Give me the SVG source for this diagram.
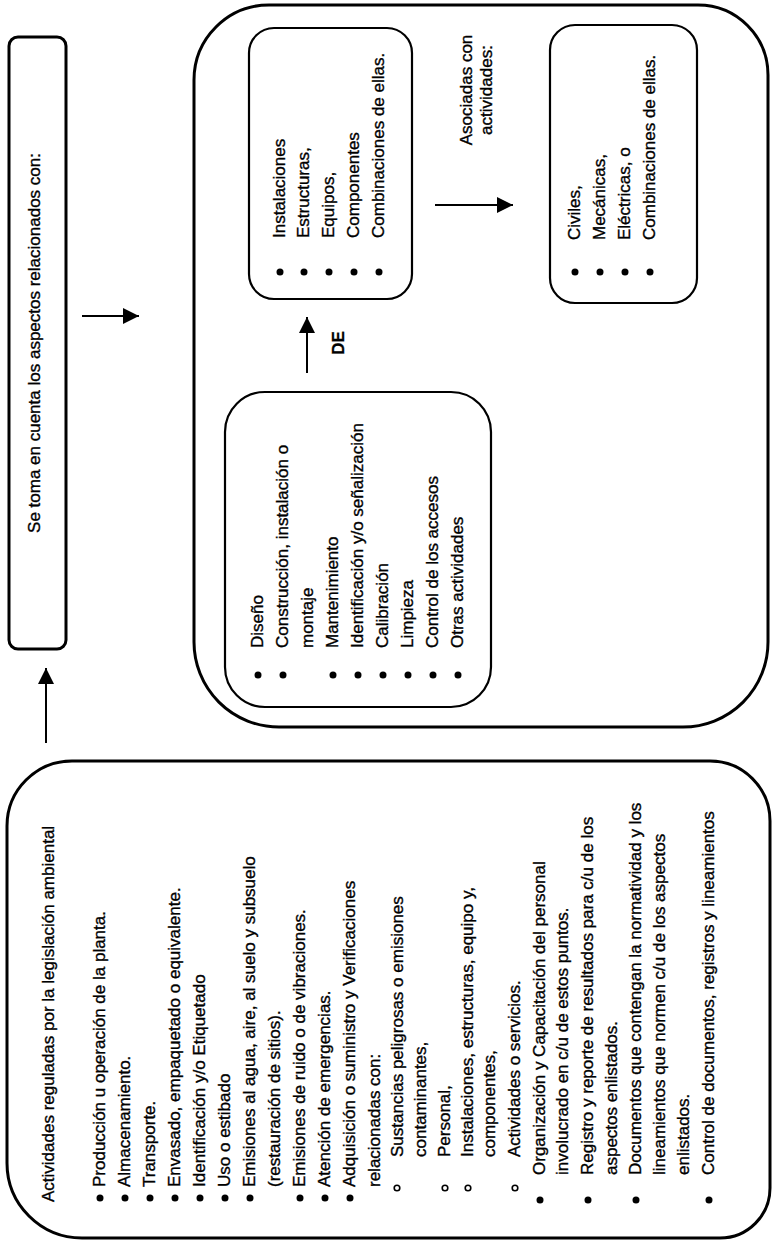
<svg xmlns="http://www.w3.org/2000/svg" width="773" height="1244" viewBox="0 0 773 1244">
<style>
text{font-family:"Liberation Sans",Arial,sans-serif;font-size:17px;fill:#000;stroke:#000;stroke-width:0.35}
.box{fill:none;stroke:#000;stroke-width:3}
.ibox{fill:none;stroke:#000;stroke-width:2.2}
.b{fill:#000}
.o{fill:none;stroke:#000;stroke-width:1.6}
.conn{stroke:#000;stroke-width:2;fill:none;marker-end:url(#ah)}
.de{font-weight:bold}
</style>
<defs>
<marker id="ah" markerUnits="userSpaceOnUse" markerWidth="16" markerHeight="16" viewBox="0 0 16 16" refX="16" refY="8" orient="auto">
<path d="M0,0 L16,8 L0,16 z" fill="#000"/>
</marker>
</defs>
<rect width="773" height="1244" fill="#fff"/>

<g id="connectors">
<line class="conn" x1="82" y1="316" x2="139" y2="316"/>
<line class="conn" x1="46" y1="743" x2="46" y2="668"/>
<line class="conn" x1="307" y1="373" x2="307" y2="317"/>
<line class="conn" x1="435" y1="205" x2="513" y2="205"/>
<text class="de" transform="translate(344,343) rotate(-90)" text-anchor="middle">DE</text>
<text transform="translate(472,90) rotate(-90)" text-anchor="middle">Asociadas con</text>
<text transform="translate(492,90) rotate(-90)" text-anchor="middle">actividades:</text>
</g>

<g id="node-aspectos">
<rect class="box" x="9" y="37" width="57" height="612" rx="9"/>
<text transform="translate(40,343) rotate(-90)" text-anchor="middle">Se toma en cuenta los aspectos relacionados con:</text>
</g>

<g id="node-contenedor">
<path class="box" d="M269,5 H698 A70,70 0 0 1 768,75 V642 A85,85 0 0 1 683,727 H279 A85,85 0 0 1 194,642 V80 A75,75 0 0 1 269,5 Z"/>
</g>

<g id="node-instalaciones">
<rect class="ibox" x="249" y="28" width="163" height="271" rx="25"/>
<circle class="b" cx="280" cy="272" r="3.5"/><text transform="translate(285,238) rotate(-90)">Instalaciones</text>
<circle class="b" cx="304" cy="272" r="3.5"/><text transform="translate(309,238) rotate(-90)">Estructuras,</text>
<circle class="b" cx="329" cy="272" r="3.5"/><text transform="translate(334,238) rotate(-90)">Equipos,</text>
<circle class="b" cx="354" cy="272" r="3.5"/><text transform="translate(359,238) rotate(-90)">Componentes</text>
<circle class="b" cx="379" cy="272" r="3.5"/><text transform="translate(384,238) rotate(-90)">Combinaciones de ellas.</text>
</g>

<g id="node-civiles">
<rect class="ibox" x="550" y="25" width="147" height="278" rx="25"/>
<circle class="b" cx="575" cy="272" r="3.5"/><text transform="translate(580,240) rotate(-90)">Civiles,</text>
<circle class="b" cx="600" cy="272" r="3.5"/><text transform="translate(605,240) rotate(-90)">Mecánicas,</text>
<circle class="b" cx="625" cy="272" r="3.5"/><text transform="translate(630,240) rotate(-90)">Eléctricas, o</text>
<circle class="b" cx="650" cy="272" r="3.5"/><text transform="translate(655,240) rotate(-90)">Combinaciones de ellas.</text>
</g>

<g id="node-diseno">
<rect class="ibox" x="225" y="392" width="266" height="315" rx="40"/>
<circle class="b" cx="258" cy="675" r="3.5"/><text transform="translate(263,648) rotate(-90)">Diseño</text>
<circle class="b" cx="283" cy="675" r="3.5"/><text transform="translate(288,648) rotate(-90)">Construcción, instalación o</text>
<text transform="translate(313,648) rotate(-90)">montaje</text>
<circle class="b" cx="333" cy="675" r="3.5"/><text transform="translate(338,648) rotate(-90)">Mantenimiento</text>
<circle class="b" cx="358" cy="675" r="3.5"/><text transform="translate(363,648) rotate(-90)">Identificación y/o señalización</text>
<circle class="b" cx="383" cy="675" r="3.5"/><text transform="translate(388,648) rotate(-90)">Calibración</text>
<circle class="b" cx="408" cy="675" r="3.5"/><text transform="translate(413,648) rotate(-90)">Limpieza</text>
<circle class="b" cx="433" cy="675" r="3.5"/><text transform="translate(438,648) rotate(-90)">Control de los accesos</text>
<circle class="b" cx="458" cy="675" r="3.5"/><text transform="translate(463,648) rotate(-90)">Otras actividades</text>
</g>

<g id="node-actividades">
<path class="box" d="M72,761 H710 A60,60 0 0 1 770,821 V1188 A50,50 0 0 1 720,1238 H82 A75,75 0 0 1 7,1163 V826 A65,65 0 0 1 72,761 Z"/>
<text transform="translate(54,1202) rotate(-90)">Actividades reguladas por la legislación ambiental</text>
<circle class="b" cx="100" cy="1198" r="3.5"/><text transform="translate(105,1187) rotate(-90)">Producción u operación de la planta.</text>
<circle class="b" cx="125" cy="1198" r="3.5"/><text transform="translate(130,1187) rotate(-90)">Almacenamiento.</text>
<circle class="b" cx="150" cy="1198" r="3.5"/><text transform="translate(155,1187) rotate(-90)">Transporte.</text>
<circle class="b" cx="175" cy="1198" r="3.5"/><text transform="translate(180,1187) rotate(-90)">Envasado, empaquetado o equivalente.</text>
<circle class="b" cx="200" cy="1198" r="3.5"/><text transform="translate(205,1187) rotate(-90)">Identificación y/o Etiquetado</text>
<circle class="b" cx="225" cy="1198" r="3.5"/><text transform="translate(230,1187) rotate(-90)">Uso o estibado</text>
<circle class="b" cx="250" cy="1198" r="3.5"/><text transform="translate(255,1187) rotate(-90)">Emisiones al agua, aire, al suelo y subsuelo</text>
<text transform="translate(280,1187) rotate(-90)">(restauración de sitios).</text>
<circle class="b" cx="300" cy="1198" r="3.5"/><text transform="translate(305,1187) rotate(-90)">Emisiones de ruido o de vibraciones.</text>
<circle class="b" cx="325" cy="1198" r="3.5"/><text transform="translate(330,1187) rotate(-90)">Atención de emergencias.</text>
<circle class="b" cx="350" cy="1198" r="3.5"/><text transform="translate(355,1187) rotate(-90)">Adquisición o suministro y Verificaciones</text>
<text transform="translate(380,1187) rotate(-90)">relacionadas con:</text>
<circle class="o" cx="397" cy="1188" r="2.8"/><text transform="translate(403,1157) rotate(-90)">Sustancias peligrosas o emisiones</text>
<text transform="translate(426,1157) rotate(-90)">contaminantes,</text>
<circle class="o" cx="445" cy="1188" r="2.8"/><text transform="translate(450,1157) rotate(-90)">Personal,</text>
<circle class="o" cx="468" cy="1188" r="2.8"/><text transform="translate(473,1157) rotate(-90)">Instalaciones,  estructuras,  equipo y,</text>
<text transform="translate(495,1157) rotate(-90)">componentes,</text>
<circle class="o" cx="515" cy="1188" r="2.8"/><text transform="translate(520,1157) rotate(-90)">Actividades o servicios.</text>
<circle class="b" cx="540" cy="1200" r="3.5"/><text transform="translate(545,1175) rotate(-90)">Organización y Capacitación del personal</text>
<text transform="translate(568,1175) rotate(-90)">involucrado en c/u de estos puntos.</text>
<circle class="b" cx="588" cy="1200" r="3.5"/><text transform="translate(593,1175) rotate(-90)">Registro y reporte de resultados para c/u de los</text>
<text transform="translate(617,1175) rotate(-90)">aspectos enlistados.</text>
<circle class="b" cx="636" cy="1200" r="3.5"/><text transform="translate(641,1175) rotate(-90)">Documentos que contengan la normatividad y los</text>
<text transform="translate(665,1175) rotate(-90)">lineamientos que normen c/u de los aspectos</text>
<text transform="translate(689,1175) rotate(-90)">enlistados.</text>
<circle class="b" cx="709" cy="1200" r="3.5"/><text transform="translate(714,1175) rotate(-90)">Control de documentos, registros y lineamientos</text>
</g>
</svg>
